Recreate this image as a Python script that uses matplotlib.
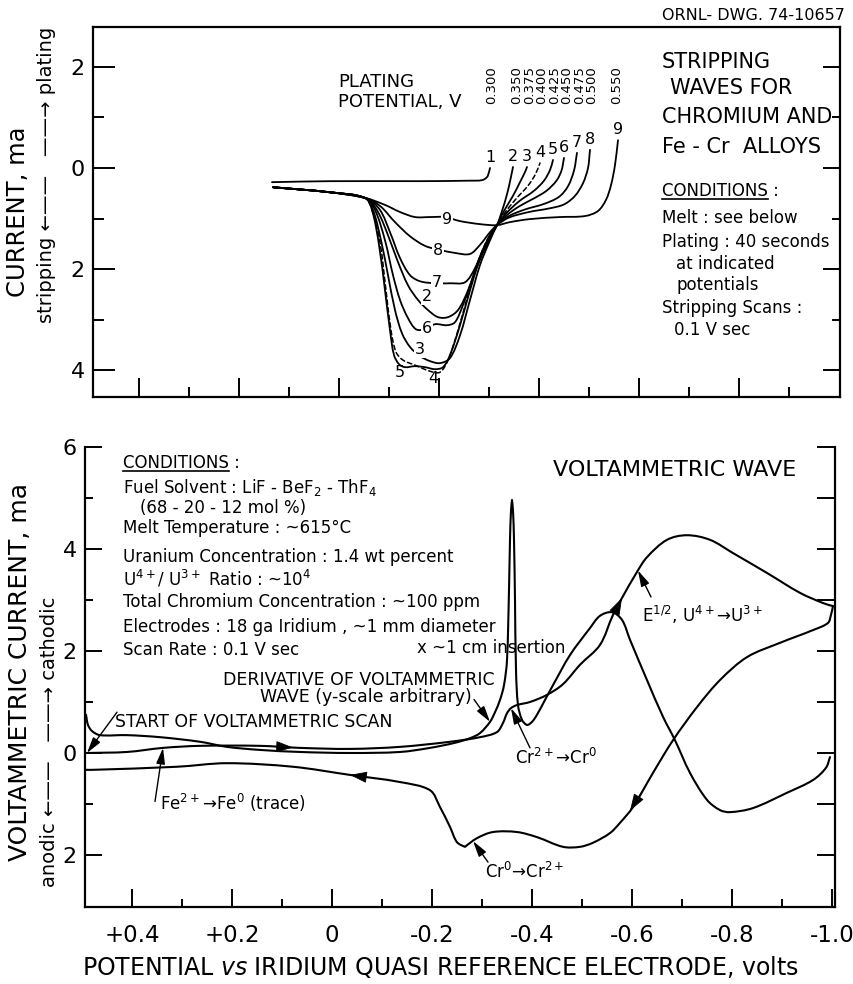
import numpy as np
import matplotlib
matplotlib.use("Agg")
import matplotlib.pyplot as plt
from matplotlib.lines import Line2D
from matplotlib.path import Path
from matplotlib.patches import PathPatch

plt.rcParams["font.family"] = ["DejaVu Sans"]
plt.rcParams["mathtext.default"] = "regular"
plt.rcParams["axes.linewidth"] = 1.6

# ---------------- stripping waves (upper panel) ----------------
# potential (V vs Ir) and stripping current (ma, positive = stripping)
plating_potentials = [0.300, 0.350, 0.375, 0.400, 0.425, 0.450, 0.475, 0.500, 0.550]
curve_ids = ["1", "2", "3", "4", "5", "6", "7", "8", "9"]

strip1_v = [0.134, 0.018, -0.162, -0.262, -0.286, -0.296, -0.300, -0.302]
strip1_s = [0.28, 0.26, 0.26, 0.25, 0.24, 0.18, 0.08, 0.00]

strip2_v = [0.132, 0.018, -0.056, -0.078, -0.098, -0.118, -0.138, -0.158, -0.178, -0.198,
            -0.218, -0.238, -0.258, -0.278, -0.298, -0.316, -0.326, -0.336, -0.343, -0.348]
strip2_s = [0.38, 0.48, 0.61, 0.87, 1.33, 1.86, 2.32, 2.61, 2.81, 2.95,
            2.95, 2.81, 2.42, 1.86, 1.43, 1.13, 0.85, 0.52, 0.22, -0.02]

strip3_v = [0.132, 0.018, -0.052, -0.068, -0.084, -0.098, -0.112, -0.126, -0.142, -0.162,
            -0.182, -0.202, -0.222, -0.242, -0.262, -0.282, -0.302, -0.316, -0.330, -0.348,
            -0.362, -0.372, -0.376]
strip3_s = [0.38, 0.48, 0.59, 0.83, 1.43, 2.12, 2.81, 3.27, 3.54, 3.72,
            3.82, 3.86, 3.76, 3.31, 2.61, 1.92, 1.43, 1.13, 0.85, 0.55,
            0.28, 0.08, -0.02]

strip4_v = [0.132, 0.018, -0.052, -0.066, -0.082, -0.094, -0.104, -0.114, -0.128, -0.152,
            -0.182, -0.202, -0.218, -0.238, -0.258, -0.278, -0.298, -0.316, -0.332, -0.355,
            -0.378, -0.393, -0.402]
strip4_s = [0.38, 0.48, 0.59, 0.83, 1.47, 2.42, 3.21, 3.64, 3.80, 3.90,
            4.02, 4.04, 3.80, 3.21, 2.51, 1.86, 1.39, 1.13, 0.88, 0.60,
            0.35, 0.12, -0.10]

strip5_v = [0.132, 0.018, -0.052, -0.066, -0.080, -0.092, -0.102, -0.110, -0.120, -0.132,
            -0.152, -0.172, -0.192, -0.208, -0.222, -0.242, -0.262, -0.282, -0.302, -0.316,
            -0.334, -0.360, -0.390, -0.410, -0.422, -0.428]
strip5_s = [0.38, 0.48, 0.59, 0.83, 1.52, 2.42, 3.21, 3.70, 3.88, 3.94,
            3.92, 3.94, 3.98, 3.94, 3.70, 3.11, 2.42, 1.78, 1.33, 1.13,
            0.90, 0.66, 0.45, 0.25, 0.04, -0.16]

strip6_v = [0.132, 0.018, -0.052, -0.072, -0.092, -0.108, -0.122, -0.138, -0.154, -0.172,
            -0.192, -0.216, -0.232, -0.248, -0.266, -0.286, -0.302, -0.316, -0.336, -0.360,
            -0.390, -0.415, -0.435, -0.445, -0.450]
strip6_s = [0.38, 0.48, 0.59, 0.83, 1.43, 2.12, 2.61, 2.97, 3.19, 3.19,
            3.09, 3.11, 3.05, 2.71, 2.22, 1.72, 1.39, 1.13, 0.93, 0.76,
            0.60, 0.45, 0.25, 0.05, -0.20]

strip7_v = [0.132, 0.018, -0.056, -0.082, -0.102, -0.122, -0.142, -0.162, -0.192, -0.222,
            -0.252, -0.272, -0.292, -0.316, -0.340, -0.372, -0.410, -0.440, -0.458, -0.470,
            -0.476]
strip7_s = [0.38, 0.48, 0.61, 0.83, 1.27, 1.78, 2.12, 2.24, 2.28, 2.28,
            2.26, 1.98, 1.52, 1.13, 0.95, 0.82, 0.71, 0.57, 0.36, 0.05,
            -0.30]

strip8_v = [0.132, 0.018, -0.052, -0.082, -0.112, -0.142, -0.172, -0.202, -0.232, -0.262,
            -0.282, -0.302, -0.316, -0.340, -0.380, -0.420, -0.450, -0.472, -0.488, -0.498,
            -0.502]
strip8_s = [0.38, 0.48, 0.59, 0.75, 1.07, 1.35, 1.54, 1.62, 1.68, 1.70,
            1.52, 1.27, 1.13, 0.98, 0.87, 0.80, 0.72, 0.55, 0.30, 0.00,
            -0.36]

strip9_v = [0.132, 0.018, -0.052, -0.092, -0.122, -0.152, -0.182, -0.212, -0.242, -0.282,
            -0.316, -0.342, -0.382, -0.442, -0.492, -0.518, -0.534, -0.544, -0.552, -0.558]
strip9_s = [0.38, 0.48, 0.59, 0.73, 0.87, 0.97, 0.97, 0.97, 1.05, 1.11,
            1.13, 1.07, 1.01, 0.97, 0.95, 0.85, 0.63, 0.34, -0.06, -0.55]

# where each curve number is written inside the family of curves
inner_label_ids = ["9", "8", "7", "2", "6", "3", "5", "4"]
inner_label_v = [-0.216, -0.198, -0.196, -0.176, -0.176, -0.162, -0.122, -0.188]
inner_label_s = [1.01, 1.64, 2.26, 2.55, 3.17, 3.60, 4.04, 4.16]

# ---------------- voltammetric wave (lower panel) ----------------
# potential (V vs Ir) and current (ma, positive = cathodic)
cv_fwd_v = [0.490, 0.410, 0.338, 0.264, 0.144, 0.064, -0.036, -0.136, -0.236, -0.296,
            -0.330, -0.342, -0.350, -0.358, -0.370, -0.396, -0.430, -0.462, -0.496, -0.536,
            -0.562, -0.580, -0.610, -0.630, -0.670, -0.710, -0.756, -0.802, -0.870, -0.936,
            -0.982, -1.002]
cv_fwd_i = [0.00, 0.02, 0.10, 0.14, 0.14, 0.10, 0.08, 0.12, 0.22, 0.31,
            0.41, 0.59, 0.78, 0.88, 0.94, 1.00, 1.14, 1.35, 1.73, 2.12,
            2.71, 3.04, 3.55, 3.84, 4.18, 4.27, 4.18, 3.92, 3.53, 3.14,
            2.94, 2.88]

cv_rev_v = [-1.002, -0.998, -0.992, -0.962, -0.896, -0.830, -0.776, -0.730, -0.682, -0.642,
            -0.602, -0.576, -0.556, -0.522, -0.496, -0.462, -0.410, -0.370, -0.322, -0.290,
            -0.266, -0.250, -0.236, -0.216, -0.196, -0.136, -0.036, 0.078, 0.210, 0.310,
            0.478, 0.494]
cv_rev_i = [2.88, 2.71, 2.55, 2.41, 2.16, 1.88, 1.43, 0.90, 0.25, -0.39,
            -1.06, -1.37, -1.57, -1.76, -1.84, -1.84, -1.65, -1.55, -1.55, -1.67,
            -1.84, -1.75, -1.45, -1.06, -0.73, -0.57, -0.43, -0.27, -0.20, -0.27,
            -0.33, -0.33]

deriv_v = [0.492, 0.488, 0.480, 0.464, 0.410, 0.344, 0.264, 0.210, 0.144, 0.064,
           -0.036, -0.136, -0.196, -0.246, -0.276, -0.296, -0.316, -0.326, -0.336, -0.344,
           -0.350, -0.354, -0.356, -0.358, -0.360, -0.362, -0.364, -0.366, -0.368, -0.372,
           -0.380, -0.390, -0.400, -0.410, -0.426, -0.442, -0.476, -0.516, -0.536, -0.560,
           -0.580, -0.596, -0.630, -0.662, -0.686, -0.716, -0.750, -0.776, -0.796, -0.842,
           -0.910, -0.962, -0.988, -0.996]
deriv_i = [0.75, 0.55, 0.43, 0.35, 0.35, 0.31, 0.22, 0.12, 0.06, 0.02,
           0.00, 0.02, 0.10, 0.20, 0.29, 0.39, 0.61, 0.80, 1.04, 1.33,
           1.82, 3.20, 4.18, 4.75, 4.96, 4.75, 4.18, 3.00, 1.63, 0.94,
           0.65, 0.55, 0.61, 0.75, 1.04, 1.33, 1.92, 2.45, 2.69, 2.76,
           2.61, 2.22, 1.43, 0.71, 0.25, -0.39, -0.92, -1.12, -1.16, -1.08,
           -0.78, -0.53, -0.29, -0.08]

x_major = [0.4, 0.2, 0.0, -0.2, -0.4, -0.6, -0.8, -1.0]
x_major_labels = ["+0.4", "+0.2", "0", "-0.2", "-0.4", "-0.6", "-0.8", "-1.0"]
x_minor = [0.3, 0.1, -0.1, -0.3, -0.5, -0.7, -0.9]

W, H = 854, 984
fig = plt.figure(figsize=(W / 100, H / 100), dpi=100)
LW = 1.5
TXT = 12


def px_box(x0, y0, x1, y1):
    return [x0 / W, 1 - y1 / H, (x1 - x0) / W, (y1 - y0) / H]


def smooth_curve(ax, xs, ys, sharp=(), **style):
    """Draw a pen-like curve through every given point (cubic Bezier pieces,
    chord-length tangents); indices in `sharp` are drawn as corners."""
    pts = np.column_stack([xs, ys]).astype(float)
    d = ax.transData.transform(pts)
    n = len(d)
    seg = np.maximum(np.hypot(*np.diff(d, axis=0).T), 1e-6)
    m = np.zeros_like(d)
    for i in range(n):
        if i == 0:
            m[i] = (d[1] - d[0]) / seg[0]
        elif i == n - 1:
            m[i] = (d[-1] - d[-2]) / seg[-1]
        else:
            m[i] = (d[i + 1] - d[i - 1]) / (seg[i - 1] + seg[i])
        if i in sharp:
            m[i] = 0.0
    verts = [d[0]]
    codes = [Path.MOVETO]
    for i in range(n - 1):
        h = seg[i]
        verts += [d[i] + m[i] * h / 3, d[i + 1] - m[i + 1] * h / 3, d[i + 1]]
        codes += [Path.CURVE4] * 3
    verts = ax.transData.inverted().transform(np.array(verts))
    style.setdefault("lw", LW)
    style.setdefault("edgecolor", "k")
    ax.add_patch(PathPatch(Path(verts, codes), fill=False, capstyle="round",
                           joinstyle="round", **style))


def flow_arrow(ax, xs, ys, at, back):
    """Arrowhead lying on a curve, pointing from `back` towards `at`."""
    xs = np.asarray(xs, float)
    ys = np.asarray(ys, float)
    order = np.argsort(xs)
    tip = (at, np.interp(at, xs[order], ys[order]))
    tail = (back, np.interp(back, xs[order], ys[order]))
    ax.annotate("", xy=tip, xytext=tail,
                arrowprops=dict(arrowstyle="-|>,head_length=0.9,head_width=0.3",
                                color="k", lw=0.6, shrinkA=0, shrinkB=0,
                                mutation_scale=12))


def value_at(xs, ys, x):
    xs = np.asarray(xs, float)
    ys = np.asarray(ys, float)
    order = np.argsort(xs)
    return float(np.interp(x, xs[order], ys[order]))


def pointer(ax, xy, xytext):
    ax.annotate("", xy=xy, xytext=xytext,
                arrowprops=dict(arrowstyle="-|>,head_length=0.8,head_width=0.22",
                                color="k", lw=1.0, shrinkA=0, shrinkB=0,
                                mutation_scale=12))


# ================= upper panel =================
ax1 = fig.add_axes(px_box(93, 27, 840, 397))
ax1.set_xlim(0.492, -1.002)
ax1.set_ylim(4.53, -2.79)
ax1.set_xticks([0.4, 0.2, 0.0, -0.2, -0.4, -0.6, -0.8])
ax1.set_xticks(x_minor, minor=True)
ax1.tick_params(axis="x", which="major", direction="in", length=13.5, width=1.4,
                labelbottom=False)
ax1.tick_params(axis="x", which="minor", direction="in", length=7, width=1.4)
ax1.set_yticks([-2, 0, 2, 4])
ax1.set_yticklabels(["2", "0", "2", "4"])
ax1.set_yticks([-1, 1, 3], minor=True)
ax1.tick_params(axis="y", which="major", direction="in", length=15.5, width=1.4,
                labelsize=16, pad=6)
ax1.tick_params(axis="y", which="minor", direction="in", length=8, width=1.4)

ax1r = ax1.twinx()
ax1r.set_ylim(4.53, -2.79)
ax1r.set_yticks([-2, 0, 2, 4])
ax1r.set_yticks([-1, 1, 3], minor=True)
ax1r.tick_params(axis="y", which="major", direction="in", length=12, width=1.4,
                 labelright=False)
ax1r.tick_params(axis="y", which="minor", direction="in", length=6, width=1.4)
for sp in ax1r.spines.values():
    sp.set_visible(False)

strip_v = [strip1_v, strip2_v, strip3_v, strip4_v, strip5_v, strip6_v, strip7_v, strip8_v, strip9_v]
strip_s = [strip1_s, strip2_s, strip3_s, strip4_s, strip5_s, strip6_s, strip7_s, strip8_s, strip9_s]
for cid, vv, ss in zip(curve_ids, strip_v, strip_s):
    if cid == "4":
        smooth_curve(ax1, vv, ss, lw=1.1, linestyle=(0, (3, 2)))
    else:
        smooth_curve(ax1, vv, ss, lw=1.3)
    # number at the upper end of each curve
    ax1.annotate(cid, xy=(vv[-1], ss[-1]), xytext=(0, 2), textcoords="offset points",
                 ha="center", va="bottom", fontsize=11.5)

for cid, lv, ls in zip(inner_label_ids, inner_label_v, inner_label_s):
    boxed = cid not in ("5", "4")
    ax1.text(lv, ls, cid, ha="center", va="center", fontsize=11.5,
             bbox=dict(boxstyle="square,pad=0.05", fc="white", ec="none") if boxed else None)

# plating potential column headings
for p in plating_potentials:
    ax1.text(-p - 0.006, -1.64, f"{p:.3f}", rotation=90, ha="center", va="center",
             fontsize=9.5)

ax1.text(0.002, -1.70, "PLATING", ha="left", va="center", fontsize=13)
ax1.text(0.002, -1.31, "POTENTIAL, V", ha="left", va="center", fontsize=13)

title_lines = [("STRIPPING", -0.646, -2.10), ("WAVES FOR", -0.662, -1.58),
               ("CHROMIUM AND", -0.646, -1.01), ("Fe - Cr  ALLOYS", -0.646, -0.42)]
for txt, tv, ts in title_lines:
    ax1.text(tv, ts, txt, ha="left", va="center", fontsize=15)

cond_top = ax1.text(-0.646, 0.46, "CONDITIONS", ha="left", va="center", fontsize=TXT)
ax1.text(-0.646, 0.46, "CONDITIONS :", ha="left", va="center", fontsize=TXT)
cond_top.set_alpha(0.0)
notes_top = [("Melt : see below", -0.646, 0.99), ("Plating : 40 seconds", -0.646, 1.47),
             ("at indicated", -0.674, 1.90), ("potentials", -0.674, 2.32),
             ("Stripping Scans :", -0.646, 2.77), ("0.1 V sec", -0.670, 3.21)]
for txt, tv, ts in notes_top:
    ax1.text(tv, ts, txt, ha="left", va="center", fontsize=TXT)

# ================= lower panel =================
ax2 = fig.add_axes(px_box(85, 447, 835, 907))
ax2.set_xlim(0.494, -1.006)
ax2.set_ylim(-3.02, 6.0)
ax2.spines["top"].set_visible(False)
ax2.set_xticks(x_major)
ax2.set_xticklabels(x_major_labels)
ax2.set_xticks(x_minor, minor=True)
ax2.tick_params(axis="x", which="major", direction="in", length=13, width=1.4,
                labelsize=16.5, pad=12)
ax2.tick_params(axis="x", which="minor", direction="in", length=6, width=1.4)
ax2.set_yticks([-2, 0, 2, 4, 6])
ax2.set_yticklabels(["2", "0", "2", "4", "6"])
ax2.set_yticks([-1, 1, 3, 5], minor=True)
ax2.tick_params(axis="y", which="major", direction="in", length=12, width=1.4,
                labelsize=16, pad=6)
ax2.tick_params(axis="y", which="minor", direction="in", length=6, width=1.4)

ax2r = ax2.twinx()
ax2r.set_ylim(-3.02, 6.0)
ax2r.set_yticks(list(range(-2, 7)))
ax2r.tick_params(axis="y", which="major", direction="in", length=13, width=1.4,
                 labelright=False)
for sp in ax2r.spines.values():
    sp.set_visible(False)

smooth_curve(ax2, cv_fwd_v, cv_fwd_i)
smooth_curve(ax2, cv_rev_v, cv_rev_i, sharp=(20,))
smooth_curve(ax2, deriv_v, deriv_i, sharp=(24,))

# scan direction
flow_arrow(ax2, cv_fwd_v, cv_fwd_i, 0.078, 0.11)
flow_arrow(ax2, cv_fwd_v, cv_fwd_i, -0.580, -0.555)
flow_arrow(ax2, cv_rev_v, cv_rev_i, -0.596, -0.625)
flow_arrow(ax2, cv_rev_v, cv_rev_i, -0.036, -0.075)

ax2.text(-0.442, 5.55, "VOLTAMMETRIC WAVE", ha="left", va="center", fontsize=16)

cond_bot = ax2.text(0.418, 5.69, "CONDITIONS", ha="left", va="center", fontsize=TXT)
ax2.text(0.418, 5.69, "CONDITIONS :", ha="left", va="center", fontsize=TXT)
cond_bot.set_alpha(0.0)
notes_bot = [("Fuel Solvent : LiF - BeF$_2$ - ThF$_4$", 0.418, 5.20),
             ("(68 - 20 - 12 mol %)", 0.384, 4.80),
             ("Melt Temperature : ~615°C", 0.418, 4.41),
             ("Uranium Concentration : 1.4 wt percent", 0.418, 3.84),
             ("U$^{4+}$/ U$^{3+}$ Ratio : ~10$^4$", 0.418, 3.41),
             ("Total Chromium Concentration : ~100 ppm", 0.418, 2.96),
             ("Electrodes : 18 ga Iridium , ~1 mm diameter", 0.418, 2.47),
             ("Scan Rate : 0.1 V sec", 0.418, 2.02),
             ("x ~1 cm insertion", -0.170, 2.06)]
for txt, tv, ti in notes_bot:
    ax2.text(tv, ti, txt, ha="left", va="center", fontsize=TXT)

ax2.text(-0.326, 1.43, "DERIVATIVE OF VOLTAMMETRIC", ha="right", va="center", fontsize=12.5)
ax2.text(-0.280, 1.10, "WAVE (y-scale arbitrary)", ha="right", va="center", fontsize=12.5)
pointer(ax2, (-0.316, value_at(deriv_v, deriv_i, -0.316)), (-0.284, 1.05))

ax2.text(0.434, 0.60, "START OF VOLTAMMETRIC SCAN", ha="left", va="center", fontsize=12.5)
pointer(ax2, (cv_fwd_v[0], cv_fwd_i[0]), (0.430, 0.80))

ax2.text(0.344, -0.97, "Fe$^{2+}$→Fe$^{0}$ (trace)", ha="left", va="center", fontsize=TXT)
pointer(ax2, (0.338, value_at(cv_fwd_v, cv_fwd_i, 0.338)), (0.354, -0.95))

ax2.text(-0.366, -0.10, "Cr$^{2+}$→Cr$^{0}$", ha="left", va="center", fontsize=TXT)
pointer(ax2, (-0.358, value_at(cv_fwd_v, cv_fwd_i, -0.358)), (-0.396, 0.10))

ax2.text(-0.306, -2.33, "Cr$^{0}$→Cr$^{2+}$", ha="left", va="center", fontsize=TXT)
pointer(ax2, (-0.282, value_at(cv_rev_v, cv_rev_i, -0.282)), (-0.312, -2.14))

ax2.text(-0.620, 2.71, "E$^{1/2}$, U$^{4+}$→U$^{3+}$", ha="left", va="center", fontsize=TXT)
pointer(ax2, (-0.612, value_at(cv_fwd_v, cv_fwd_i, -0.612)), (-0.638, 3.06))

# ================= surrounding labels =================
fig.text(845 / W, 1 - 15 / H, "ORNL- DWG. 74-10657", ha="right", va="center", fontsize=11.5)
fig.text(18 / W, 1 - 212 / H, "CURRENT, ma", rotation=90, ha="center", va="center",
         fontsize=17.5)
fig.text(47 / W, 1 - 175 / H, "stripping ←——   ——→ plating", rotation=90,
         ha="center", va="center", fontsize=14)
fig.text(20 / W, 1 - 672 / H, "VOLTAMMETRIC CURRENT, ma", rotation=90,
         ha="center", va="center", fontsize=18)
fig.text(50 / W, 1 - 742 / H, "anodic ←——   ——→ cathodic", rotation=90,
         ha="center", va="center", fontsize=14)
fig.text(440 / W, 1 - 967 / H,
         "POTENTIAL $\\mathit{vs}$ IRIDIUM QUASI REFERENCE ELECTRODE, volts",
         ha="center", va="center", fontsize=17)

# underline the two CONDITIONS headings
fig.canvas.draw()
renderer = fig.canvas.get_renderer()
for t in (cond_top, cond_bot):
    bb = t.get_window_extent(renderer)
    fig.add_artist(Line2D([bb.x0 / W, bb.x1 / W], [(bb.y0 + 1) / H, (bb.y0 + 1) / H],
                          transform=fig.transFigure, color="k", lw=1.2))

fig.savefig("out.png", dpi=100, facecolor="white")
